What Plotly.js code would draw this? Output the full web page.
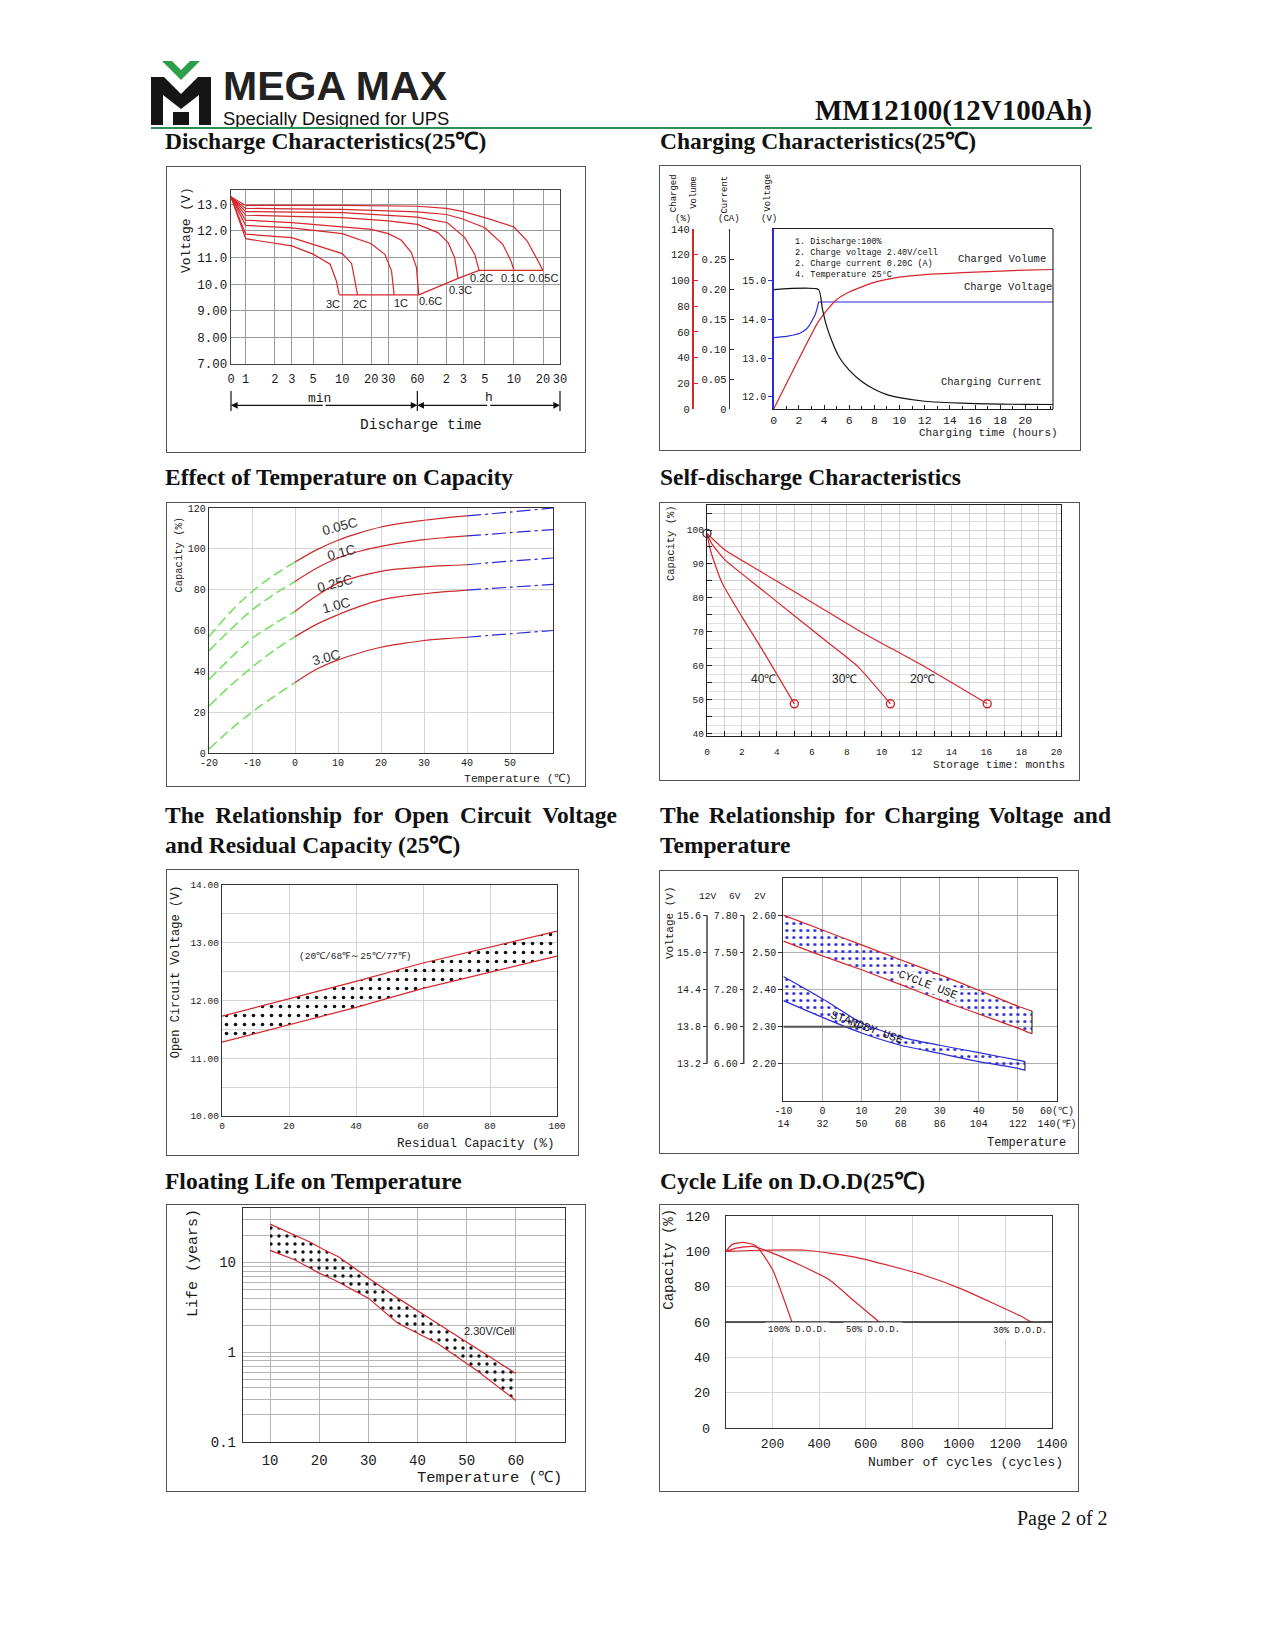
<!DOCTYPE html>
<html>
<head>
<meta charset="utf-8">
<title>MM12100(12V100Ah)</title>
<script src="https://cdn.plot.ly/plotly-3.0.1.min.js"></script>
<style>
html,body{margin:0;padding:0;background:#fff;}
#page{position:relative;width:1275px;height:1650px;overflow:hidden;background:#fff;}
.t{position:absolute;font-family:"Liberation Serif","Times New Roman",serif;font-weight:bold;font-size:23.5px;line-height:30px;color:#111;white-space:nowrap;}
.j{white-space:normal;text-align:justify;text-align-last:justify;}
.chart{position:absolute;}
.frame{position:absolute;border:1.5px solid #555;box-sizing:border-box;pointer-events:none;z-index:5;}
</style>
</head>
<body>
<div id="page">
  <svg style="position:absolute;left:151px;top:61px" width="60" height="64" viewBox="0 0 60 64">
    <polygon points="11,0 21,0 30,9 39,0 49,0 30,19" fill="#2f9e4a"/>
    <path d="M0,16 H13 L30,33 L47,16 H60 V64 H48 V34 L30,48 L12,34 V64 H0 Z" fill="#151515"/>
    <rect x="22" y="51" width="16" height="13" fill="#151515"/>
  </svg>
  <div style="position:absolute;left:223px;top:68.5px;font-family:'Liberation Sans',Arial,sans-serif;font-weight:bold;font-size:41px;line-height:34px;color:#222;white-space:nowrap">MEGA MAX</div>
  <div style="position:absolute;left:223px;top:108.7px;font-family:'Liberation Sans',Arial,sans-serif;font-size:19px;line-height:20px;color:#111;white-space:nowrap;transform:scaleX(0.97);transform-origin:left">Specially Designed for UPS</div>
  <div style="position:absolute;right:183px;top:96px;font-family:'Liberation Serif',serif;font-weight:bold;font-size:29px;line-height:29px;color:#111;white-space:nowrap">MM12100(12V100Ah)</div>
  <div style="position:absolute;left:151px;top:127px;width:941px;height:1.5px;background:#2f8f55"></div>

  <div class="t" style="left:165px;top:126px">Discharge Characteristics(25℃)</div>
  <div class="t" style="left:660px;top:126px">Charging Characteristics(25℃)</div>
  <div class="t" style="left:165px;top:462px">Effect of Temperature on Capacity</div>
  <div class="t" style="left:660px;top:462px">Self-discharge Characteristics</div>
  <div class="t j" style="left:165px;top:800px;width:452px">The Relationship for Open Circuit Voltage</div>
  <div class="t" style="left:165px;top:830px">and Residual Capacity (25℃)</div>
  <div class="t j" style="left:660px;top:800px;width:451px">The Relationship for Charging Voltage and</div>
  <div class="t" style="left:660px;top:830px">Temperature</div>
  <div class="t" style="left:165px;top:1166px">Floating Life on Temperature</div>
  <div class="t" style="left:660px;top:1166px">Cycle Life on D.O.D(25℃)</div>
  <div style="position:absolute;left:1017px;top:1506px;font-family:'Liberation Serif',serif;font-size:20px;line-height:24px;color:#111;white-space:nowrap">Page 2 of 2</div>
</div>
<script>
// ================= DATA =================
// --- Discharge characteristics (time in minutes, voltage in V)
const dcTickVals=[0.705,1,2,3,5,10,20,30,60,120,180,300,600,1200,1800];
const dcTickText=['0','1','2','3','5','10','20','30','60','2','3','5','10','20','30'];
const dcVoltTicks=[7,8,9,10,11,12,13];
const dcVoltText=['7.00','8.00','9.00','10.0','11.0','12.0','13.0'];
const dcT_3C=[0.705,1,3,5,7.5,8.7,9.3];
const dcV_3C=[13.28,11.71,11.44,11.13,10.75,10.12,9.6];
const dcT_2C=[0.705,1,3,10,12.5,13.5,14.4];
const dcV_2C=[13.28,11.88,11.75,11.15,10.78,10.2,9.6];
const dcT_1C=[0.705,1,3,10,20,27.6,32.4,34.5];
const dcV_1C=[13.28,12.21,12.12,11.9,11.52,11.12,10.5,9.6];
const dcT_06C=[0.705,1,3,10,20,30,41,52,58.7,62];
const dcV_06C=[13.28,12.41,12.31,12.15,12.06,11.9,11.65,11.19,10.63,9.6];
const dcT_03C=[0.705,1,3,10,30,60,98,125,146,158.5];
const dcV_03C=[13.28,12.59,12.55,12.5,12.38,12.25,11.94,11.56,11.0,10.22];
const dcT_02C=[0.705,1,3,10,60,123,186,236,261];
const dcV_02C=[13.28,12.73,12.71,12.69,12.52,12.31,11.75,11.12,10.52];
const dcT_01C=[0.705,1,3,10,60,120,180,300,460,560,600];
const dcV_01C=[13.28,12.85,12.83,12.81,12.72,12.62,12.44,12.12,11.5,10.87,10.52];
const dcT_005C=[0.705,1,3,10,60,120,180,300,600,820,1020,1200];
const dcV_005C=[13.28,12.96,12.96,12.96,12.93,12.85,12.73,12.5,12.15,11.63,11.0,10.52];
const dcCutT=[9.3,62,158.5,261,1200];
const dcCutV=[9.6,9.6,10.22,10.52,10.52];

// --- Charging characteristics (hours)
const chTicks=[0,2,4,6,8,10,12,14,16,18,20];
const chVTicks=[12,13,14,15];
const chVText=['12.0','13.0','14.0','15.0'];
const chPctTicks=[0,20,40,60,80,100,120,140];
const chATicks=[0,0.05,0.10,0.15,0.20,0.25];
const chAText=['0','0.05','0.10','0.15','0.20','0.25'];
const chCurT=[0,3.57,3.85,4.15,4.6,5.2,6,7,8,9,10,12,14,16,18,20,22.2];
const chCurA=[0.2,0.2,0.17,0.143,0.115,0.087,0.065,0.046,0.033,0.024,0.019,0.013,0.0105,0.009,0.0082,0.0078,0.0075];
const chVoltT=[0,0.5,1,1.5,2,2.3,2.6,2.85,3.1,3.3,3.45,3.57,22.2];
const chVoltV=[13.53,13.54,13.56,13.59,13.63,13.68,13.75,13.85,13.98,14.12,14.28,14.45,14.45];
const chVolT=[0,3.55,4.15,5,6,7,8,10,12,14,16,18,20,22.2];
const chVolP=[0,68,76,85,91,95,98.5,102.5,104.5,105.5,106.5,107.3,108,108.5];

// --- Effect of temperature on capacity (deg C, %)
const tcTicks=[-20,-10,0,10,20,30,40,50];
const tcTickText=['-20','-10','0','10','20','30','40','50'];
const tcCapTicks=[0,20,40,60,80,100,120];
const tcTemp=[-20,-15,-10,-5,0,5,10,15,20,25,30,35,40,50,60];
const tcCap005=[57,69,79,87,93.5,99.5,104.2,107.8,110.7,112.6,114,115.2,116.1,118,120];
const tcCap01=[50,60.5,70,77.5,84,90.5,95.5,98.8,101.2,103,104.5,105.5,106.3,107.9,109.4];
const tcCap025=[36,46.5,56,63,69.3,77,83.2,86.6,89,90.3,91.2,91.8,92.2,94,95.5];
const tcCap10=[23,33,42,50,57,63,67.7,71.8,75,76.8,78,79,79.8,81.2,82.6];
const tcCap30=[2,11.5,20,27.5,34.5,41,45.6,49,51.8,53.6,55.1,56,56.7,58.4,60];

// --- Self-discharge (months, %)
const sdTicks=[0,2,4,6,8,10,12,14,16,18,20];
const sdCapTicks=[40,45,50,55,60,65,70,75,80,85,90,95,100,105];
const sdCapText=['40','','50','','60','','70','','80','','90','','100',''];
const sdT40=[0,0.15,0.45,0.9,2,3.3,5];
const sdC40=[99,95,90,84,74.4,63.6,48.8];
const sdT30=[0,0.27,1.03,2.93,4.84,6.74,8.65,10.5];
const sdC30=[99,96,91.2,83.3,75.4,67.6,59.7,48.8];
const sdT20=[0,1.03,2.93,4.84,8.65,12.46,16.04];
const sdC20=[99,94.1,88.2,82.3,70.5,59.7,48.8];

// --- Open circuit voltage vs residual capacity
const ocvTicks=[0,20,40,60,80,100];
const ocvVTicks=[10,11,12,13,14];
const ocvVText=['10.00','11.00','12.00','13.00','14.00'];
const ocvCap=[0,20,40,60,80,100];
const ocvUpper=[11.73,12.03,12.33,12.65,12.93,13.2];
const ocvLower=[11.28,11.58,11.88,12.21,12.49,12.77];

// --- Charging voltage vs temperature
const cvTempC=[-10,0,10,20,30,40,50,60];
const cvTempText=['-10<br>14','0<br>32','10<br>50','20<br>68','30<br>86','40<br>104','50<br>122','60(℃)<br>140(℉)'];
const cv2V=[2.2,2.3,2.4,2.5,2.6];
const cv2VText=['2.20','2.30','2.40','2.50','2.60'];
const cv6VText=['6.60','6.90','7.20','7.50','7.80'];
const cv12VText=['13.2','13.8','14.4','15.0','15.6'];
const cycT=[-10,0,10,20,30,40,50,53.6];
const cycUp=[2.60,2.56,2.52,2.48,2.44,2.398,2.355,2.342];
const cycLo=[2.53,2.49,2.453,2.413,2.372,2.334,2.296,2.281];
const sbT=[-10,0,10,20,30,40,50,51.8];
const sbUp=[2.435,2.375,2.31,2.272,2.25,2.23,2.21,2.206];
const sbLo=[2.37,2.325,2.283,2.25,2.228,2.206,2.188,2.183];

// --- Floating life vs temperature (deg C, years)
const flTicks=[10,20,30,40,50,60];
const flLogTicks=[0.1,0.2,0.3,0.4,0.5,0.6,0.7,0.8,0.9,1,2,3,4,5,6,7,8,9,10,20,30,40];
const flLogText=['0.1','','','','','','','','','1','','','','','','','','','10','','',''];
const flUpT=[10,14,18,21,24,30,36,44,52,60];
const flUpY=[26.7,21.5,17,13.8,11.5,6.7,4.0,2.1,1.1,0.58];
const flLoT=[10,15,20,23,30,36,44,52,60];
const flLoY=[13.6,10.7,7.6,6.4,4.0,2.1,1.26,0.63,0.29];

// --- Cycle life vs D.O.D.
const clTicks=[200,400,600,800,1000,1200,1400];
const clCapTicks=[0,20,40,60,80,100,120];
const cl100N=[0,25,71.6,128.8,200,283];
const cl100C=[100,103.8,105.1,103.2,89.6,60];
const cl50N=[0,50,114.6,200,315,443.6,544,658];
const cl50C=[100,102,102.8,99,92.4,83.9,72.6,60];
const cl30N=[0,143,343.6,572.5,847,1005,1276.7,1310];
const cl30C=[100,100.6,100.6,96.2,86.6,79,62.6,60];

// ================= HELPERS =================
const MONO='"Liberation Mono","DejaVu Sans Mono",monospace';
const SANS='"Liberation Sans",Arial,sans-serif';
const NARROW='"Liberation Sans Narrow","Liberation Sans",Arial,sans-serif';
const RED='#d8262c', BLUE='#2a2ad8', GREEN='#6ee05a', INK='#1a1a1a';
const page=document.getElementById('page');
const CFG={staticPlot:true,displayModeBar:false};
const lg=Math.log10;

function makeDiv(id,box){
  const d=document.createElement('div'); d.id=id; d.className='chart';
  Object.assign(d.style,{left:box[0]+'px',top:box[1]+'px',width:box[2]+'px',height:box[3]+'px'});
  page.appendChild(d);
  const f=document.createElement('div'); f.className='frame';
  Object.assign(f.style,{left:box[0]+'px',top:box[1]+'px',width:box[2]+'px',height:box[3]+'px'});
  page.appendChild(f);
  return d;
}
function conv(P){return {x:px=>(px-P.L)/(P.R-P.L), y:py=>(P.B-py)/(P.B-P.T)};}
function mar(box,P,l){const ml=(l===undefined)?P.L-box[0]:l; return {l:ml,r:box[0]+box[2]-P.R,t:P.T-box[1],b:box[1]+box[3]-P.B,pad:0};}
function F(family,size,color){return {family:family,size:size,color:color||INK};}
function txt(c,px,py,text,font,opt){return Object.assign({xref:'x domain',yref:'y domain',x:c.x(px),y:c.y(py),text:text,showarrow:false,xanchor:'center',yanchor:'middle',font:font},opt||{});}
function dtxt(x,y,text,font,opt){return Object.assign({xref:'x',yref:'y',x:x,y:y,text:text,showarrow:false,xanchor:'center',yanchor:'middle',font:font},opt||{});}
function ln(x,y,color,width,extra){return Object.assign({type:'scatter',mode:'lines',x:x,y:y,line:{color:color,width:width||1.3},hoverinfo:'skip',showlegend:false},extra||{});}
function base(box,P,l){return {width:box[2],height:box[3],margin:mar(box,P,l),paper_bgcolor:'#fff',plot_bgcolor:'#fff',showlegend:false,font:F(MONO,11)};}
function ax(o){return Object.assign({showline:true,linecolor:'#333',linewidth:1.2,mirror:true,zeroline:false,showgrid:true,gridcolor:'#bbb',gridwidth:1,ticks:'',automargin:false,fixedrange:true},o);}

// ================= CHART 1: Discharge =================
(function(){
  const box=[166,166,420,287], P={L:230.7,T:190.3,R:560,B:364}, c=conv(P);
  makeDiv('c1',box);
  const series=[[dcT_3C,dcV_3C],[dcT_2C,dcV_2C],[dcT_1C,dcV_1C],[dcT_06C,dcV_06C],[dcT_03C,dcV_03C],[dcT_02C,dcV_02C],[dcT_01C,dcV_01C],[dcT_005C,dcV_005C]];
  const traces=series.map(s=>ln(s[0],s[1],RED,1.2));
  traces.push(ln(dcCutT,dcCutV,RED,1.2));
  const r0=lg(dcTickVals[0]), r1=lg(dcTickVals[dcTickVals.length-1]);
  const f60=(lg(60)-r0)/(r1-r0);
  const W=P.R-P.L, yA=c.y(405.3);
  const arrow=(x,axp)=>({xref:'x domain',yref:'y domain',x:x,y:yA,ax:axp,ay:0,text:'',showarrow:true,arrowhead:2,arrowsize:1.1,arrowwidth:1.2,arrowcolor:'#111',standoff:0,startstandoff:0});
  const lf=F(NARROW,11,'#222');
  const anns=[
    dtxt(lg(8.07),9.25,'3C',lf), dtxt(lg(15.2),9.25,'2C',lf), dtxt(lg(40.4),9.29,'1C',lf),
    dtxt(lg(82.6),9.35,'0.6C',lf), dtxt(lg(169),9.78,'0.3C',lf), dtxt(lg(276),10.25,'0.2C',lf),
    dtxt(lg(574),10.25,'0.1C',lf), dtxt(lg(1215),10.25,'0.05C',lf),
    txt(c,186,230,'Voltage (V)',F(MONO,13),{textangle:-90}),
    txt(c,319.7,398,'min',F(MONO,13)), txt(c,489,397,'h',F(MONO,13)),
    txt(c,421,424.7,'Discharge time',F(MONO,14.5)),
    arrow(0,f60*W/2), arrow(f60,-f60*W/2), arrow(f60,(1-f60)*W/2), arrow(1,-(1-f60)*W/2)
  ];
  const vt=x=>({type:'line',xref:'x domain',yref:'y domain',x0:x,x1:x,y0:c.y(391),y1:c.y(411),line:{color:'#111',width:1.2}});
  const lay=base(box,P);
  lay.xaxis=ax({type:'log',range:[r0,r1],tickvals:dcTickVals,ticktext:dcTickText,gridcolor:'#9a9a9a',linecolor:'#444',tickfont:F(MONO,12),ticklabelstandoff:3});
  lay.yaxis=ax({range:[7,13.54],tickvals:dcVoltTicks,ticktext:dcVoltText,gridcolor:'#9a9a9a',linecolor:'#444',tickfont:F(MONO,12.5)});
  lay.annotations=anns; lay.shapes=[vt(0),vt(f60),vt(1)];
  Plotly.newPlot('c1',traces,lay,CFG);
})();

// ================= CHART 2: Charging =================
(function(){
  const box=[659,165,422,286], P={L:773.7,T:229,R:1053,B:409.3}, c=conv(P);
  const ml=10, pl=box[0]+ml, pw=P.R-pl, pos=px=>(px-pl)/pw;
  makeDiv('c2',box);
  const traces=[
    ln(chCurT,chCurA,'#111',1.2,{yaxis:'y3',line:{color:'#111',width:1.2,shape:'spline',smoothing:0.5}}),
    ln(chVoltT,chVoltV,BLUE,1.2,{yaxis:'y'}),
    ln(chVolT,chVolP,RED,1.2,{yaxis:'y2',line:{color:RED,width:1.2,shape:'spline',smoothing:0.6}})
  ];
  const lay=base(box,P,ml);
  lay.xaxis=ax({domain:[pos(P.L),1],range:[0,22.2],tickvals:chTicks,showgrid:false,linecolor:'#222',ticks:'inside',ticklen:4,tickcolor:'#222',minor:{dtick:1,ticks:'inside',ticklen:3,tickcolor:'#222'},tickfont:F(MONO,11.5)});
  lay.yaxis=ax({anchor:'x',range:[11.68,16.34],tickvals:chVTicks,ticktext:chVText,showgrid:false,linecolor:BLUE,linewidth:1.5,mirror:false,ticks:'outside',ticklen:4,tickcolor:BLUE,tickfont:F(MONO,10)});
  lay.yaxis2={overlaying:'y',anchor:'free',position:pos(692),side:'left',range:[0,140],tickvals:chPctTicks,showline:true,linecolor:RED,linewidth:1.5,ticks:'inside',ticklen:4,tickcolor:RED,showgrid:false,zeroline:false,automargin:false,tickfont:F(MONO,10.5)};
  lay.yaxis3={overlaying:'y',anchor:'free',position:pos(728.7),side:'left',range:[0,0.3015],tickvals:chATicks,ticktext:chAText,showline:true,linecolor:'#333',linewidth:1.2,ticks:'inside',ticklen:4,tickcolor:'#333',showgrid:false,zeroline:false,automargin:false,tickfont:F(MONO,10.5)};
  lay.shapes=[{type:'line',xref:'x domain',yref:'y domain',x0:1,x1:1,y0:0,y1:1,line:{color:'#333',width:1.2}}];
  const nf=F(MONO,8.5,'#111'), hf=F(MONO,9,'#111');
  lay.annotations=[
    txt(c,792.7,235,'1. Discharge:100%<br>2. Charge voltage 2.40V/cell<br>2. Charge current 0.20C (A)<br>4. Temperature 25°C',nf,{xanchor:'left',yanchor:'top',align:'left'}),
    txt(c,956,259,'Charged Volume',F(MONO,10.5),{xanchor:'left'}),
    txt(c,962,287.3,'Charge Voltage',F(MONO,10.5),{xanchor:'left'}),
    txt(c,939,382.7,'Charging Current',F(MONO,10.5),{xanchor:'left'}),
    txt(c,917,433,'Charging time (hours)',F(MONO,11),{xanchor:'left'}),
    txt(c,674.3,192.8,'Charged',hf,{textangle:-90}),
    txt(c,694,192.8,'Volume',hf,{textangle:-90}),
    txt(c,683,219,'(%)',hf),
    txt(c,725,194.5,'Current',hf,{textangle:-90}),
    txt(c,729.3,218.5,'(CA)',hf),
    txt(c,767.7,193,'Voltage',hf,{textangle:-90}),
    txt(c,769.3,218.5,'(V)',hf)
  ];
  Plotly.newPlot('c2',traces,lay,CFG);
})();

// ================= CHART 3: Temperature vs capacity =================
(function(){
  const box=[166,502,420,285], P={L:208.7,T:508,R:553,B:752.7}, c=conv(P);
  makeDiv('c3',box);
  const traces=[];
  [tcCap005,tcCap01,tcCap025,tcCap10,tcCap30].forEach(v=>{
    const seg=(lo,hi)=>{const xs=[],ys=[];tcTemp.forEach((t,i)=>{if(t>=lo&&t<=hi){xs.push(t);ys.push(v[i]);}});return [xs,ys];};
    const g=seg(-20,0), r=seg(0,40), b=seg(40,60);
    traces.push(ln(g[0],g[1],GREEN,1.5,{line:{color:GREEN,width:1.5,dash:'10px,5px',shape:'spline'}}));
    traces.push(ln(r[0],r[1],RED,1.2,{line:{color:'#cc2a2a',width:1.2,shape:'spline'}}));
    traces.push(ln(b[0],b[1],BLUE,1.2,{line:{color:BLUE,width:1.2,dash:'14px,4px,3px,4px',shape:'spline'}}));
  });
  const lf=F(SANS,13.5,'#333');
  const lay=base(box,P);
  lay.xaxis=ax({range:[-20,60],tickvals:tcTicks,ticktext:tcTickText,gridcolor:'#d6d6d6',tickfont:F(MONO,10)});
  lay.yaxis=ax({range:[0,120],tickvals:tcCapTicks,gridcolor:'#d6d6d6',tickfont:F(MONO,10)});
  lay.annotations=[
    dtxt(10.4,110.7,'0.05C',lf,{textangle:-15}),
    dtxt(10.8,98.4,'0.1C',lf,{textangle:-15}),
    dtxt(9.3,83.2,'0.25C',lf,{textangle:-15}),
    dtxt(9.6,72.3,'1.0C',lf,{textangle:-15}),
    dtxt(7.3,46.9,'3.0C',lf,{textangle:-15}),
    txt(c,178.7,554.5,'Capacity (%)',F(MONO,10.5),{textangle:-90}),
    txt(c,518,778,'Temperature (℃)',F(MONO,11.5))
  ];
  Plotly.newPlot('c3',traces,lay,CFG);
})();

// ================= CHART 4: Self-discharge =================
(function(){
  const box=[659,502,421,279], P={L:706.5,T:505.3,R:1061,B:736}, c=conv(P);
  makeDiv('c4',box);
  const sp={shape:'spline',smoothing:0.5};
  const traces=[
    ln(sdT40,sdC40,RED,1.2,{line:Object.assign({color:RED,width:1.2},sp)}),
    ln(sdT30,sdC30,RED,1.2,{line:Object.assign({color:RED,width:1.2},sp)}),
    ln(sdT20,sdC20,RED,1.2,{line:Object.assign({color:RED,width:1.2},sp)}),
    {type:'scatter',mode:'markers',x:[sdT40[sdT40.length-1],sdT30[sdT30.length-1],sdT20[sdT20.length-1]],y:[sdC40[sdC40.length-1],sdC30[sdC30.length-1],sdC20[sdC20.length-1]],marker:{symbol:'circle-open',size:8,color:RED,line:{width:1.4,color:RED}},cliponaxis:false,hoverinfo:'skip',showlegend:false},
    {type:'scatter',mode:'markers',x:[sdT40[0]],y:[sdC40[0]],marker:{symbol:'circle-open',size:8,color:'#444',line:{width:1.4,color:'#444'}},cliponaxis:false,hoverinfo:'skip',showlegend:false}
  ];
  const lay=base(box,P);
  lay.xaxis=ax({range:[0,20.26],tickvals:sdTicks,gridcolor:'#d0d0d0',linecolor:'#222',ticks:'inside',ticklen:5,tickcolor:'#222',minor:{dtick:1,showgrid:true,gridcolor:'#d0d0d0',ticks:'inside',ticklen:5,tickcolor:'#222'},tickfont:F(MONO,9.5),ticklabelstandoff:6});
  lay.yaxis=ax({range:[39.32,107.37],tickvals:sdCapTicks,ticktext:sdCapText,gridcolor:'#d0d0d0',linecolor:'#222',ticks:'inside',ticklen:5,tickcolor:'#222',minor:{dtick:2.5,tick0:0,showgrid:true,gridcolor:'#e0e0e0'},tickfont:F(MONO,9.5)});
  const lf=F(NARROW,12,'#222');
  lay.annotations=[
    dtxt(3.21,56.2,'40℃',lf), dtxt(7.87,56.2,'30℃',lf), dtxt(12.35,56.2,'20℃',lf),
    txt(c,671,543.7,'Capacity (%)',F(MONO,10.5),{textangle:-90}),
    txt(c,999,765,'Storage time: months',F(MONO,11))
  ];
  Plotly.newPlot('c4',traces,lay,CFG);
})();

// ================= CHART 5: OCV vs residual capacity =================
(function(){
  const box=[166,869,413,287], P={L:222,T:885,R:557,B:1116}, c=conv(P);
  makeDiv('c5',box);
  const traces=[
    ln(ocvCap,ocvLower,RED,1.2),
    ln(ocvCap,ocvUpper,RED,1.2,{fill:'tonexty',fillcolor:'rgba(255,255,255,0)',fillpattern:{shape:'.',fgcolor:'#111',bgcolor:'rgba(255,255,255,0)',size:9,solidity:0.13}})
  ];
  const lay=base(box,P);
  lay.xaxis=ax({range:[0,100],tickvals:ocvTicks,gridcolor:'#d4d4d4',tickfont:F(MONO,9.5)});
  lay.yaxis=ax({range:[10,14],tickvals:ocvVTicks,ticktext:ocvVText,gridcolor:'#d4d4d4',minor:{dtick:0.5,showgrid:true,gridcolor:'#d4d4d4'},tickfont:F(MONO,9.5)});
  lay.annotations=[
    dtxt(39.6,12.77,'(20℃/68℉～25℃/77℉)',F(MONO,9.5,'#222')),
    txt(c,176.3,972,'Open Circuit Voltage (V)',F(MONO,12),{textangle:-90}),
    txt(c,476,1143.5,'Residual Capacity (%)',F(MONO,12.5))
  ];
  Plotly.newPlot('c5',traces,lay,CFG);
})();

// ================= CHART 6: Charging voltage vs temperature =================
(function(){
  const box=[659,870,420,284], P={L:783.3,T:878.3,R:1056.7,B:1101}, c=conv(P);
  const ml=10, pl=box[0]+ml, pw=P.R-pl, pos=px=>(px-pl)/pw;
  makeDiv('c6',box);
  const pat={shape:'.',fgcolor:BLUE,bgcolor:'rgba(255,255,255,0)',size:7,solidity:0.16};
  const sp={shape:'spline',smoothing:0.6};
  const traces=[
    ln(cycT,cycLo,RED,1.2,{line:Object.assign({color:RED,width:1.2},sp)}),
    ln(cycT,cycUp,RED,1.2,{line:Object.assign({color:RED,width:1.2},sp),fill:'tonexty',fillcolor:'rgba(255,255,255,0)',fillpattern:pat}),
    ln([cycT[cycT.length-1],cycT[cycT.length-1]],[cycUp[cycUp.length-1],cycLo[cycLo.length-1]],'#333',1.2),
    ln(sbT,sbLo,BLUE,1.2,{line:Object.assign({color:BLUE,width:1.2},sp)}),
    ln(sbT,sbUp,BLUE,1.2,{line:Object.assign({color:BLUE,width:1.2},sp),fill:'tonexty',fillcolor:'rgba(255,255,255,0)',fillpattern:pat}),
    ln([sbT[sbT.length-1],sbT[sbT.length-1]],[sbUp[sbUp.length-1],sbLo[sbLo.length-1]],'#333',1.2),
    {type:'scatter',mode:'lines',x:[],y:[],yaxis:'y2',hoverinfo:'skip',showlegend:false},
    {type:'scatter',mode:'lines',x:[],y:[],yaxis:'y3',hoverinfo:'skip',showlegend:false}
  ];
  const lay=base(box,P,ml);
  lay.xaxis=ax({domain:[pos(P.L),1],range:[-10,60],tickvals:cvTempC,ticktext:cvTempText,gridcolor:'#b0b0b0',tickfont:F(MONO,10)});
  lay.yaxis=ax({anchor:'x',range:[2.10,2.70],tickvals:cv2V,ticktext:cv2VText,gridcolor:'#b0b0b0',ticks:'outside',ticklen:4,tickcolor:'#333',tickfont:F(MONO,10)});
  const fa=(p,txts)=>({overlaying:'y',anchor:'free',position:p,side:'left',range:[2.10,2.70],tickvals:cv2V,ticktext:txts,showline:false,ticks:'outside',ticklen:4,tickcolor:'#333',showgrid:false,zeroline:false,automargin:false,tickfont:F(MONO,10)});
  lay.yaxis2=fa(pos(707),cv12VText);
  lay.yaxis3=fa(pos(743.7),cv6VText);
  const br=p=>({type:'line',xref:'paper',yref:'y',x0:p,x1:p,y0:cv2V[0],y1:cv2V[cv2V.length-1],line:{color:'#444',width:1.5}});
  lay.shapes=[br(pos(707)),br(pos(743.7)),{type:'line',xref:'x',yref:'y',x0:-10,x1:10,y0:2.3,y1:2.3,line:{color:'#555',width:2}}];
  const hf=F(MONO,9.5);
  lay.annotations=[
    txt(c,707,896.7,'12V',hf), txt(c,735,896.7,'6V',hf), txt(c,760,896.7,'2V',hf),
    txt(c,669.3,923,'Voltage (V)',F(MONO,11),{textangle:-90}),
    txt(c,1026.5,1142.5,'Temperature',F(MONO,12)),
    dtxt(27,2.414,'CYCLE USE',F(MONO,11.5,'#111'),{textangle:21,bgcolor:'#fff',borderpad:0}),
    dtxt(11.5,2.298,'STANDBY USE',F(MONO,11.5,'#111'),{textangle:20})
  ];
  Plotly.newPlot('c6',traces,lay,CFG);
})();

// ================= CHART 7: Floating life =================
(function(){
  const box=[166,1204,420,288], P={L:243,T:1208,R:565,B:1441.6}, c=conv(P);
  makeDiv('c7',box);
  const traces=[
    ln(flLoT,flLoY,RED,1.2),
    ln(flUpT,flUpY,RED,1.2,{fill:'tonexty',fillcolor:'rgba(255,255,255,0)',fillpattern:{shape:'.',fgcolor:'#111',bgcolor:'rgba(255,255,255,0)',size:8,solidity:0.14}})
  ];
  const lay=base(box,P);
  lay.xaxis=ax({range:[4.5,70],tickvals:flTicks,gridcolor:'#b5b5b5',tickfont:F(MONO,14),ticklabelstandoff:5});
  lay.yaxis=ax({type:'log',range:[-1,1.6057],tickvals:flLogTicks,ticktext:flLogText,gridcolor:'#b5b5b5',tickfont:F(MONO,14),ticklabelstandoff:3});
  lay.annotations=[
    dtxt(54.7,0.2415,'2.30V/Cell',F(NARROW,11,'#222')),
    txt(c,193,1263,'Life (years)',F(MONO,15),{textangle:-90}),
    txt(c,489,1477.5,'Temperature (℃)',F(MONO,15.5))
  ];
  Plotly.newPlot('c7',traces,lay,CFG);
})();

// ================= CHART 8: Cycle life =================
(function(){
  const box=[659,1204,420,288], P={L:726,T:1216.3,R:1052,B:1428.3}, c=conv(P);
  makeDiv('c8',box);
  const sp={shape:'spline',smoothing:0.5};
  const traces=[
    ln(cl100N,cl100C,RED,1.2,{line:Object.assign({color:RED,width:1.2},sp)}),
    ln(cl50N,cl50C,RED,1.2,{line:Object.assign({color:RED,width:1.2},sp)}),
    ln(cl30N,cl30C,RED,1.2,{line:Object.assign({color:RED,width:1.2},sp)})
  ];
  const lay=base(box,P);
  lay.xaxis=ax({range:[0,1400],tickvals:clTicks,gridcolor:'#d6d6d6',tickfont:F(MONO,13),ticklabelstandoff:3});
  lay.yaxis=ax({range:[0,120],tickvals:clCapTicks,gridcolor:'#d6d6d6',tickfont:F(MONO,13.5),ticklabelstandoff:12});
  lay.shapes=[
    {type:'line',xref:'paper',yref:'y',x0:0,x1:1,y0:60,y1:60,line:{color:'#222',width:1.5}}
  ];
  const lf=F(MONO,9,'#111');
  const lo={bgcolor:'#fff',borderpad:2};
  lay.annotations=[
    dtxt(307,55.5,'100% D.O.D.',lf,lo), dtxt(630,55.5,'50% D.O.D.',lf,lo), dtxt(1264.7,55.1,'30% D.O.D.',lf,lo),
    txt(c,669.3,1259.7,'Capacity (%)',F(MONO,14),{textangle:-90}),
    txt(c,965.5,1462.5,'Number of cycles (cycles)',F(MONO,13))
  ];
  Plotly.newPlot('c8',traces,lay,CFG);
})();
</script>
</body>
</html>
